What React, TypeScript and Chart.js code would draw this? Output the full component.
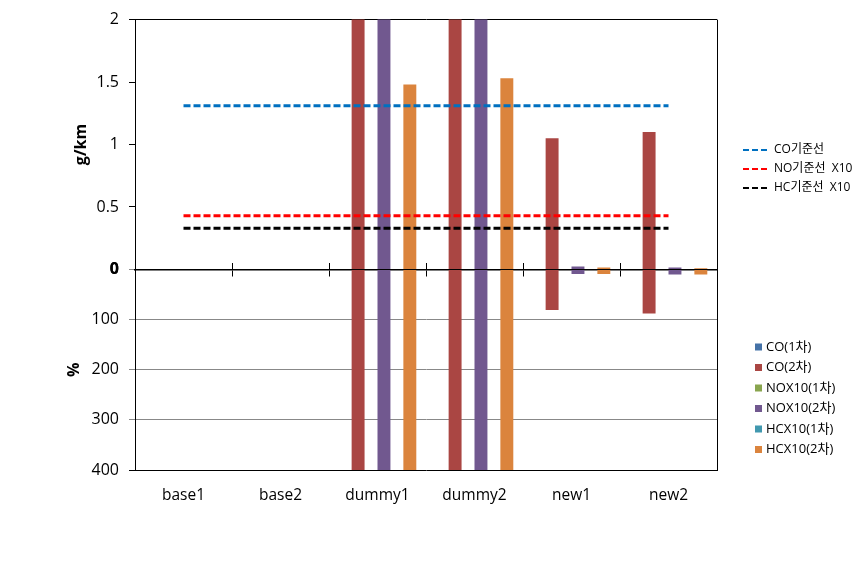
import React, { useEffect, useRef } from 'react';
import { Chart, registerables } from 'chart.js';

Chart.register(...registerables);

const FONT = "'Open Sans', 'Noto Sans CJK KR', sans-serif";

const categories = ['base1', 'base2', 'dummy1', 'dummy2', 'new1', 'new2'];

// Reference (standard) lines, g/km
const coStandard = [1.31, 1.31, 1.31, 1.31, 1.31, 1.31];
const noStandardX10 = [0.43, 0.43, 0.43, 0.43, 0.43, 0.43];
const hcStandardX10 = [0.33, 0.33, 0.33, 0.33, 0.33, 0.33];
const lineLabels = ['CO기준선', 'NO기준선  X10', 'HC기준선  X10'];
const lineColors = ['#0070C0', '#FF0000', '#000000'];

// Bar series
const seriesLabels = ['CO(1차)', 'CO(2차)', 'NOX10(1차)', 'NOX10(2차)', 'HCX10(1차)', 'HCX10(2차)'];
const seriesColors = ['#4572A7', '#AA4643', '#89A54E', '#71588F', '#4198AF', '#DB843D'];

// Upper panel, g/km
const co1Gkm = [null, null, null, null, null, null];
const co2Gkm = [null, null, 2.4, 2.4, 1.05, 1.1];
const nox1Gkm = [null, null, null, null, null, null];
const nox2Gkm = [null, null, 2.4, 2.4, 0.024, 0.016];
const hc1Gkm = [null, null, null, null, null, null];
const hc2Gkm = [null, null, 1.48, 1.53, 0.016, 0.01];

// Lower panel, %
const co1Pct = [null, null, null, null, null, null];
const co2Pct = [null, null, 450, 450, 81, 88];
const nox1Pct = [null, null, null, null, null, null];
const nox2Pct = [null, null, 450, 450, 9, 10];
const hc1Pct = [null, null, null, null, null, null];
const hc2Pct = [null, null, 450, 450, 9, 10];

// Axis ranges
const gkmRange = [0, 2];
const gkmStep = 0.5;
const pctRange = [0, 400];
const pctStep = 100;

const gkmSeries = [co1Gkm, co2Gkm, nox1Gkm, nox2Gkm, hc1Gkm, hc2Gkm];
const pctSeries = [co1Pct, co2Pct, nox1Pct, nox2Pct, hc1Pct, hc2Pct];
const lineSeries = [coStandard, noStandardX10, hcStandardX10];

const legendPlugin = {
  id: 'twoLegends',
  afterDraw(chart: any) {
    const ctx = chart.ctx;
    const area = chart.chartArea;
    ctx.save();
    // line legend
    ctx.font = `12px ${FONT}`;
    ctx.textBaseline = 'middle';
    ctx.textAlign = 'left';
    lineLabels.forEach((label, i) => {
      const y = 150 + i * 19;
      const x0 = area.right + 26;
      ctx.strokeStyle = lineColors[i];
      ctx.lineWidth = 2;
      ctx.setLineDash([6, 3]);
      ctx.beginPath();
      ctx.moveTo(x0, y);
      ctx.lineTo(x0 + 27, y);
      ctx.stroke();
      ctx.setLineDash([]);
      ctx.fillStyle = '#000';
      ctx.fillText(label, x0 + 31, y);
    });
    // bar legend
    ctx.font = `13px ${FONT}`;
    seriesLabels.forEach((label, i) => {
      const y = 347 + i * 20.5;
      const x0 = area.right + 38;
      ctx.fillStyle = seriesColors[i];
      ctx.fillRect(x0, y - 3.5, 7, 7);
      ctx.fillStyle = '#000';
      ctx.fillText(label, x0 + 11, y);
    });
    ctx.restore();
  },
};

const tickFont = (c: any) => ({
  size: 16,
  weight: c.tick && c.tick.value === 0 ? 'bold' : 'normal',
});

export default function App() {
  const ref = useRef<HTMLCanvasElement | null>(null);

  useEffect(() => {
    if (!ref.current) return;
    Chart.defaults.font.family = FONT;

    const lineDatasets = lineSeries.map((data, i) => ({
      type: 'line' as const,
      label: lineLabels[i],
      data,
      borderColor: lineColors[i],
      backgroundColor: lineColors[i],
      borderWidth: 3,
      borderDash: [7, 3],
      pointRadius: 0,
      fill: false,
      xAxisID: 'x',
      yAxisID: 'y',
      order: 0,
    }));

    const topBars = gkmSeries.map((data, i) => ({
      type: 'bar' as const,
      label: seriesLabels[i],
      data,
      backgroundColor: seriesColors[i],
      stack: 's' + i,
      xAxisID: 'x',
      yAxisID: 'y',
      barPercentage: 1,
      categoryPercentage: 0.8,
      order: 1,
    }));

    const bottomBars = pctSeries.map((data, i) => ({
      type: 'bar' as const,
      label: seriesLabels[i] + ' %',
      data,
      backgroundColor: seriesColors[i],
      stack: 's' + i,
      xAxisID: 'x',
      yAxisID: 'y2',
      barPercentage: 1,
      categoryPercentage: 0.8,
      order: 1,
    }));

    const chart = new Chart(ref.current, {
      type: 'bar',
      data: {
        labels: categories,
        datasets: [...lineDatasets, ...topBars, ...bottomBars] as any,
      },
      plugins: [legendPlugin],
      options: {
        animation: false,
        responsive: false,
        events: [],
        layout: { padding: { top: 18, right: 143, bottom: 0, left: 0 } },
        plugins: {
          legend: { display: false },
          tooltip: { enabled: false },
          title: { display: false },
        },
        scales: {
          x: {
            type: 'category',
            position: 'bottom',
            offset: true,
            grid: {
              display: true,
              offset: true,
              drawTicks: false,
              drawOnChartArea: true,
              color: (c: any) => (c.tick ? 'transparent' : '#000'),
            },
            border: { display: true, color: '#000', width: 1 },
            ticks: { font: { size: 15.5 }, color: '#000', padding: 16 },
            afterFit: (s: any) => {
              s.height = 92;
            },
          },
          x2: {
            type: 'category',
            position: { y: 0 } as any,
            offset: true,
            z: 1,
            grid: {
              offset: true,
              drawOnChartArea: false,
              drawTicks: true,
              tickLength: 6,
              color: '#000',
            },
            border: { display: true, color: '#000', width: 1.5 },
            ticks: { display: false },
            afterFit: (s: any) => {
              s.height = 0;
            },
          },
          x3: {
            type: 'category',
            position: { y: 0 } as any,
            offset: true,
            z: 1,
            grid: {
              offset: true,
              drawOnChartArea: false,
              drawTicks: true,
              tickLength: -6,
              color: '#000',
            },
            border: { display: false },
            ticks: { display: false },
            afterFit: (s: any) => {
              s.height = 0;
            },
          },
          y: {
            type: 'linear',
            position: 'left',
            stack: 'v',
            stackWeight: 250.7,
            weight: 2,
            min: gkmRange[0],
            max: gkmRange[1],
            ticks: {
              stepSize: gkmStep,
              font: tickFont,
              color: '#000',
              padding: 10,
              callback: (v: any) => String(v),
            },
            grid: {
              drawOnChartArea: true,
              drawTicks: true,
              tickLength: 6,
              color: (c: any) => (c.tick && c.tick.value === gkmRange[1] ? '#000' : 'transparent'),
              tickColor: '#000',
            },
            border: { display: true, color: '#000', width: 1 },
            title: {
              display: true,
              text: 'g/km',
              font: { size: 16, weight: 'bold' },
              color: '#000',
              padding: { top: 72, bottom: 0 },
            },
            afterFit: (s: any) => {
              s.width = 135;
            },
          },
          y2: {
            type: 'linear',
            position: 'left',
            stack: 'v',
            stackWeight: 201.3,
            weight: 1,
            reverse: true,
            min: pctRange[0],
            max: pctRange[1],
            ticks: {
              stepSize: pctStep,
              font: tickFont,
              color: '#000',
              padding: 10,
              callback: (v: any) => String(v),
            },
            grid: {
              drawOnChartArea: true,
              drawTicks: true,
              tickLength: 6,
              color: (c: any) =>
                c.tick && c.tick.value > pctRange[0] && c.tick.value < pctRange[1] ? '#888888' : 'transparent',
              tickColor: (c: any) => (c.tick && c.tick.value === pctRange[1] ? '#000' : '#888888'),
            },
            border: { display: true, color: '#000', width: 1 },
            title: {
              display: true,
              text: '%',
              font: { size: 16, weight: 'bold' },
              color: '#000',
              padding: { top: 65, bottom: 0 },
            },
            afterFit: (s: any) => {
              s.width = 135;
            },
          },
        },
      } as any,
    });

    return () => chart.destroy();
  }, []);

  return (
    <div style={{ position: 'fixed', left: 0, top: 0, width: 860, height: 562, background: '#fff' }}>
      <canvas ref={ref} width={860} height={562} style={{ display: 'block' }} />
    </div>
  );
}
